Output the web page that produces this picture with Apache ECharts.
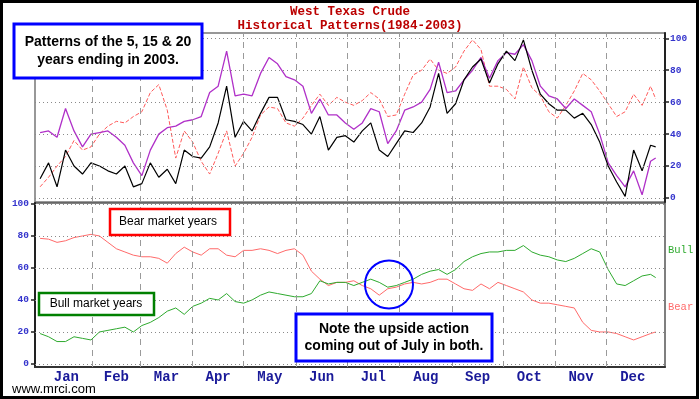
<!DOCTYPE html>
<html>
<head>
<meta charset="utf-8">
<script src="https://cdn.jsdelivr.net/npm/echarts@6/dist/echarts.min.js"></script>
<style>
  html, body { margin: 0; padding: 0; background: #fff; }
  #chart { width: 700px; height: 399px; }
</style>
</head>
<body>
<div id="chart"></div>
<script>
// day of year for each sample
const days = [0, 5, 10, 15, 20, 25, 30, 35, 40, 45, 50, 55, 60, 65, 70, 75, 80, 85, 90, 95,
  100, 105, 110, 115, 120, 125, 130, 135, 140, 145, 150, 155, 160, 165, 170, 175, 180, 185, 190, 195,
  200, 205, 210, 215, 220, 225, 230, 235, 240, 245, 250, 255, 260, 265, 270, 275, 280, 285, 290, 295,
  300, 305, 310, 315, 320, 325, 330, 335, 340, 345, 350, 355, 360, 363];

const monthNames = ['Jan', 'Feb', 'Mar', 'Apr', 'May', 'Jun', 'Jul', 'Aug', 'Sep', 'Oct', 'Nov', 'Dec'];
const monthMid = [15.5, 45, 74.5, 105, 135.5, 166, 196.5, 227.5, 258, 288.5, 319, 349.5];
const monthStart = [31, 59, 90, 120, 151, 181, 212, 243, 273, 304, 334];
const scaleTicks = [0, 20, 40, 60, 80, 100];

// top panel: seasonal patterns (0-100 scale)
const blackPattern = [12, 22, 7, 30, 20, 15, 22, 20, 17, 15, 20, 7, 9, 22, 13, 18, 9, 30, 26, 25,
  32, 47, 70, 38, 48, 42, 53, 63, 63, 49, 48, 46, 40, 51, 30, 38, 39, 35, 42, 47,
  30, 26, 34, 42, 41, 47, 57, 78, 53, 59, 74, 82, 87, 72, 84, 92, 86, 99, 80, 65,
  59, 55, 55, 50, 53, 46, 35, 20, 10, 1, 30, 17, 33, 32];
const purplePattern = [41, 42, 38, 56, 42, 32, 40, 41, 42, 38, 33, 22, 14, 30, 40, 44, 45, 48, 49, 51,
  66, 70, 92, 64, 65, 64, 78, 88, 84, 76, 74, 70, 53, 62, 52, 52, 47, 43, 47, 56,
  54, 34, 42, 55, 57, 60, 68, 85, 66, 67, 74, 80, 88, 75, 86, 91, 90, 96, 86, 70,
  64, 62, 56, 62, 58, 54, 40, 22, 14, 7, 17, 2, 23, 25];
const redPattern = [7, 13, 20, 26, 36, 30, 32, 40, 45, 48, 47, 51, 54, 66, 71, 55, 25, 42, 35, 23,
  15, 28, 42, 20, 28, 38, 52, 57, 56, 47, 45, 50, 58, 65, 58, 63, 60, 58, 61, 66,
  62, 51, 52, 65, 77, 80, 87, 80, 78, 82, 92, 99, 93, 70, 70, 68, 62, 82, 69, 64,
  54, 50, 58, 67, 78, 74, 67, 59, 51, 54, 65, 58, 70, 62];

// bottom panel: bull vs bear market years
const bullYears = [19, 17, 14, 14, 17, 16, 15, 20, 21, 22, 23, 20, 24, 26, 29, 33, 35, 31, 36, 38,
  41, 40, 44, 39, 38, 40, 43, 45, 44, 43, 42, 42, 44, 52, 50, 51, 51, 49, 51, 53,
  51, 48, 49, 51, 53, 56, 58, 59, 56, 59, 64, 67, 69, 70, 70, 71, 71, 74, 70, 68,
  67, 65, 64, 66, 69, 72, 70, 59, 50, 49, 52, 55, 56, 54];
const bearYears = [78.5, 78, 76, 77, 79, 80, 81, 80, 76, 72, 70, 68, 67, 67, 66, 63, 69, 73, 70, 68,
  72, 72, 68, 67, 71, 71, 72, 71, 69, 71, 72, 68, 58, 53, 49, 51, 51, 52, 49, 47,
  43, 47, 48, 50, 51, 50, 51, 53, 53, 50, 47, 46, 50, 47, 51, 49, 47, 45, 40, 38,
  38, 37, 36, 35, 26, 21, 20, 20, 19, 17, 15, 17, 19, 20];

const pairs = arr => days.map((d, i) => [d, arr[i]]);

const chart = echarts.init(document.getElementById('chart'));

const vLines = monthStart.map(d => ({ xAxis: d, lineStyle: { type: [6, 5], color: '#9a9a9a', width: 1 } }));
const hLines = scaleTicks.map(v => ({ yAxis: v, lineStyle: { type: [1, 3], color: '#8a8a8a', width: 1 } }));
const gridMarks = {
  silent: true,
  symbol: ['none', 'none'],
  label: { show: false },
  data: vLines.concat(hLines)
};

const numLabel = {
  color: '#3333cc',
  fontFamily: 'Liberation Mono',
  fontWeight: 'bold',
  fontSize: 9.5
};

const option = {
  animation: false,
  backgroundColor: '#fff',
  title: {
    text: 'West Texas Crude',
    subtext: 'Historical Patterns(1984-2003)',
    left: 'center',
    top: 5,
    itemGap: 1,
    padding: 0,
    textStyle: { fontFamily: 'Liberation Mono', fontWeight: 'bold', fontSize: 12.5, color: '#bb0000' },
    subtextStyle: { fontFamily: 'Liberation Mono', fontWeight: 'bold', fontSize: 12.5, color: '#bb0000' }
  },
  grid: [
    { left: 35, right: 35, top: 33, bottom: 197, show: true, borderColor: '#777', borderWidth: 1.5 },
    { left: 35, right: 35, top: 203, bottom: 32, show: true, borderColor: '#555', borderWidth: 1.5 }
  ],
  xAxis: [
    { type: 'value', gridIndex: 0, min: -3, max: 368.5, show: false, splitLine: { show: false } },
    {
      type: 'value', gridIndex: 1, min: -3, max: 368.5,
      splitLine: { show: false },
      axisLine: { show: true, onZero: false, lineStyle: { color: '#333', width: 2 } },
      axisTick: { show: false },
      axisLabel: {
        customValues: monthMid,
        margin: 3,
        color: '#1a1a99',
        fontFamily: 'Liberation Mono',
        fontWeight: 'bold',
        fontSize: 14,
        formatter: v => monthNames[monthMid.indexOf(v)]
      }
    }
  ],
  yAxis: [
    {
      type: 'value', gridIndex: 0, position: 'right', min: -2.5, max: 103.3,
      splitLine: { show: false },
      axisLine: { show: true, onZero: false, lineStyle: { color: '#222', width: 2 } },
      axisTick: { show: true, customValues: scaleTicks, length: 4, lineStyle: { color: '#222', width: 1.5 } },
      axisLabel: Object.assign({ customValues: scaleTicks, margin: 5 }, numLabel)
    },
    {
      type: 'value', gridIndex: 1, position: 'left', min: -1.9, max: 100.6,
      splitLine: { show: false },
      axisLine: { show: true, onZero: false, lineStyle: { color: '#222', width: 2 } },
      axisTick: { show: true, customValues: scaleTicks, length: 4, lineStyle: { color: '#222', width: 1.5 } },
      axisLabel: Object.assign({ customValues: scaleTicks, margin: 6 }, numLabel)
    }
  ],
  series: [
    {
      name: 'red', type: 'line', xAxisIndex: 0, yAxisIndex: 0, z: 2,
      data: pairs(redPattern), showSymbol: false,
      lineStyle: { color: '#ff5a5a', width: 1, type: [4, 2] },
      markLine: gridMarks
    },
    {
      name: 'purple', type: 'line', xAxisIndex: 0, yAxisIndex: 0, z: 3,
      data: pairs(purplePattern), showSymbol: false,
      lineStyle: { color: '#b030c8', width: 1.3 }
    },
    {
      name: 'black', type: 'line', xAxisIndex: 0, yAxisIndex: 0, z: 4,
      data: pairs(blackPattern), showSymbol: false,
      lineStyle: { color: '#000', width: 1.2 }
    },
    {
      name: 'Bear', type: 'line', xAxisIndex: 1, yAxisIndex: 1, z: 2,
      data: pairs(bearYears), showSymbol: false,
      lineStyle: { color: '#ff6a6a', width: 1 },
      markLine: gridMarks
    },
    {
      name: 'Bull', type: 'line', xAxisIndex: 1, yAxisIndex: 1, z: 3,
      data: pairs(bullYears), showSymbol: false,
      lineStyle: { color: '#2eaa2e', width: 1 }
    }
  ],
  graphic: [
    { type: 'rect', z: 100, shape: { x: 1.5, y: 1.5, width: 696, height: 396 },
      style: { fill: 'none', stroke: '#000', lineWidth: 3 } },
    { type: 'rect', z: 100, shape: { x: 14, y: 24, width: 188, height: 54 },
      style: { fill: '#fff', stroke: '#0000ff', lineWidth: 3 } },
    { type: 'text', z: 101, style: { text: 'Patterns of the 5, 15 & 20\nyears ending in 2003.', x: 108, y: 51,
      align: 'center', verticalAlign: 'middle', lineHeight: 18,
      font: 'bold 14px "Liberation Sans", Arial, sans-serif', fill: '#000' } },
    { type: 'rect', z: 100, shape: { x: 110, y: 209, width: 120, height: 26 },
      style: { fill: '#fff', stroke: '#ff0000', lineWidth: 2.5 } },
    { type: 'text', z: 101, style: { text: 'Bear market years', x: 168, y: 222,
      align: 'center', verticalAlign: 'middle', font: '12px "Liberation Sans", Arial, sans-serif', fill: '#000' } },
    { type: 'rect', z: 100, shape: { x: 39, y: 293, width: 115, height: 22 },
      style: { fill: '#fff', stroke: '#008000', lineWidth: 2.5 } },
    { type: 'text', z: 101, style: { text: 'Bull market years', x: 96, y: 304,
      align: 'center', verticalAlign: 'middle', font: '12px "Liberation Sans", Arial, sans-serif', fill: '#000' } },
    { type: 'rect', z: 100, shape: { x: 296, y: 314, width: 196, height: 47 },
      style: { fill: '#fff', stroke: '#0000ff', lineWidth: 3 } },
    { type: 'text', z: 101, style: { text: 'Note the upside action\ncoming out of July in both.', x: 394, y: 337.5,
      align: 'center', verticalAlign: 'middle', lineHeight: 17,
      font: 'bold 14px "Liberation Sans", Arial, sans-serif', fill: '#000' } },
    { type: 'circle', z: 100, shape: { cx: 389, cy: 284.5, r: 24 },
      style: { fill: 'none', stroke: '#0000ff', lineWidth: 2 } },
    { type: 'text', z: 101, style: { text: 'Bull', x: 668, y: 250, verticalAlign: 'middle',
      font: '10.5px "Liberation Mono", monospace', fill: '#2eaa2e' } },
    { type: 'text', z: 101, style: { text: 'Bear', x: 668, y: 307, verticalAlign: 'middle',
      font: '10.5px "Liberation Mono", monospace', fill: '#ff6a6a' } },
    { type: 'text', z: 101, style: { text: 'www.mrci.com', x: 12, y: 389, verticalAlign: 'middle',
      font: '13px "Liberation Sans", Arial, sans-serif', fill: '#000' } }
  ]
};

chart.setOption(option);
</script>
</body>
</html>
